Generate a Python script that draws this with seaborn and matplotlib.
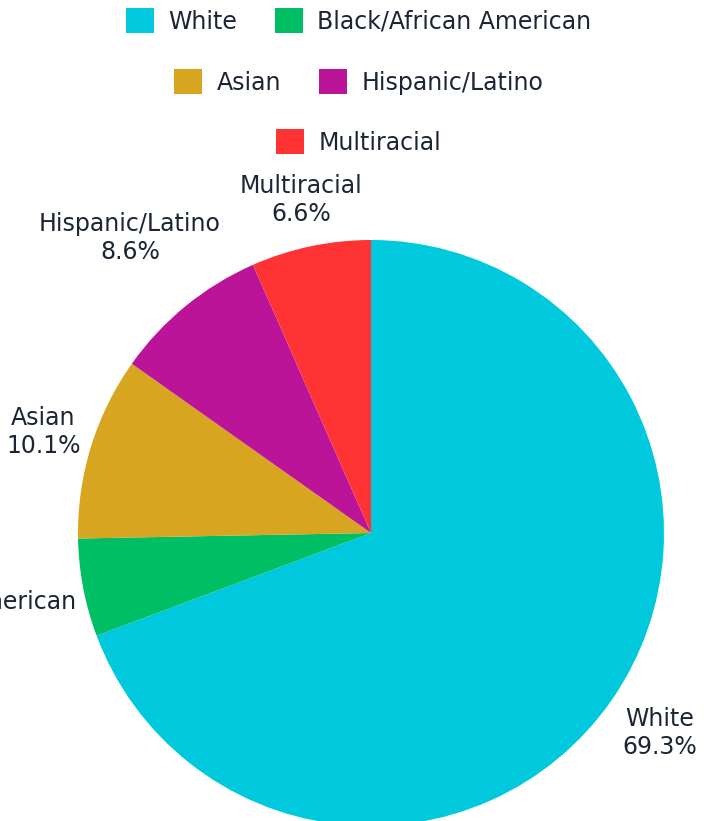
import numpy as np
import matplotlib
matplotlib.use("Agg")
import matplotlib.pyplot as plt
import matplotlib.patches as mpatches
import seaborn as sns

# Enrollment share by race/ethnicity
categories = ["White", "Black/African American", "Asian", "Hispanic/Latino", "Multiracial"]
shares = [69.3, 5.4, 10.1, 8.6, 6.6]
colors = ["#00C9DD", "#00BE64", "#D8A521", "#BB1499", "#FF3333"]

# Legend rows (centered, wrapped)
legend_rows = [["White", "Black/African American"],
               ["Asian", "Hispanic/Latino"],
               ["Multiracial"]]

# Radial distance of each outside label (in pie radii)
label_dist = [1.20, 1.50, 1.17, 1.30, 1.16]

sns.set_theme(style="white")
plt.rcParams["font.family"] = ["DejaVu Sans"]
text_color = "#1B2536"
fs = 17

W, H, DPI = 717, 821, 100
fig = plt.figure(figsize=(W / DPI, H / DPI), dpi=DPI)
ax = fig.add_axes([0, 0, 1, 1])
ax.set_axis_off()

# pie centre and radius in pixels, converted to axis limits so 1 unit = radius
cx, cy, rad = 371, 533, 293

wedges, _ = ax.pie(shares, colors=colors, startangle=90, counterclock=False,
                   radius=1.0, center=(0, 0), frame=False,
                   wedgeprops=dict(linewidth=0))
ax.set_xlim(-cx / rad, (W - cx) / rad)
ax.set_ylim(-(H - cy) / rad, cy / rad)
ax.set_aspect("auto")

for w, name, val, d in zip(wedges, categories, shares, label_dist):
    mid = np.deg2rad((w.theta1 + w.theta2) / 2)
    ax.text(d * np.cos(mid), d * np.sin(mid), f"{name}\n{val:.1f}%",
            ha="center", va="center", fontsize=fs, color=text_color,
            linespacing=1.22, clip_on=False)

color_of = dict(zip(categories, colors))
row_y = [1 - 21 / H, 1 - 82 / H, 1 - 142 / H]
for row, y in zip(legend_rows, row_y):
    handles = [mpatches.Patch(facecolor=color_of[c], edgecolor="none", label=c) for c in row]
    fig.legend(handles=handles, loc="center", bbox_to_anchor=(0.5, y),
               ncol=len(row), frameon=False, fontsize=fs,
               handlelength=1.2, handleheight=1.2, handletextpad=0.6,
               columnspacing=1.6, labelcolor=text_color, borderpad=0)

fig.savefig("out.png", dpi=DPI)
